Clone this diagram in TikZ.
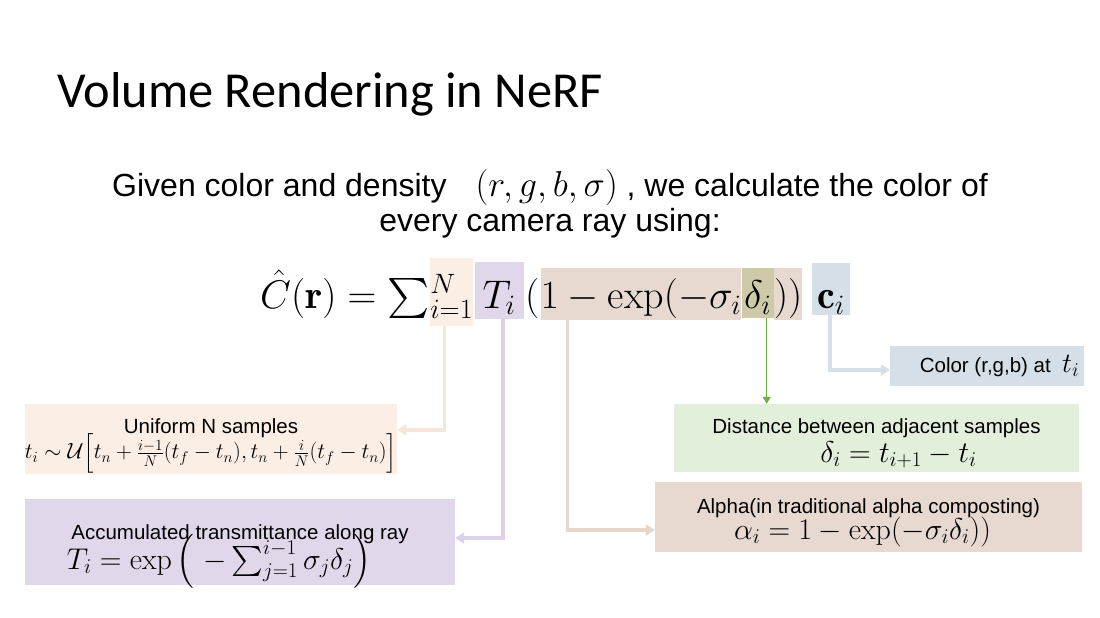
\RequirePackage{fix-cm}
\documentclass[tikz,border=0pt]{standalone}
\usepackage{amsmath}
\DeclareFontShape{OMX}{cmex}{m}{n}{<-7.5>cmex7<7.5-8.5>cmex8<8.5-9.5>cmex9<9.5->cmex10}{}
\usepackage{fontspec}
\newfontfamily\titlefont{Carlito}
\newfontfamily\slidefont{Liberation Sans}
\usepackage{xcolor}
\usetikzlibrary{arrows.meta,positioning}
\definecolor{peachbg}{HTML}{FBEEE4}
\definecolor{lilacbg}{HTML}{E1D7EB}
\definecolor{tanbg}{HTML}{E7D9CF}
\definecolor{mintbg}{HTML}{E2EFDA}
\definecolor{steelbg}{HTML}{D5DFE7}
\definecolor{olivebg}{HTML}{CECAA9}
\definecolor{peachln}{HTML}{F6E5D8}
\definecolor{lilacln}{HTML}{DCD2EA}
\definecolor{tanln}{HTML}{E6D7CC}
\definecolor{steelln}{HTML}{D6DEE6}
\definecolor{leafln}{HTML}{70AD47}

\begin{document}
\begin{tikzpicture}[x=1pt, y=-1pt,
  eqpart/.style={inner sep=0pt, font=\fontsize{40}{48}\selectfont},
  infobox/.style={rectangle, inner sep=0pt, align=center},
  boxfont/.style={font=\slidefont\fontsize{20.5}{#1}\selectfont},
  pale/.style={line width=3.5pt, -{Triangle[length=9pt,width=11pt]}},
  leaf/.style={line width=1.5pt, draw=leafln, -{Triangle[length=7pt,width=8pt]}},
]
\fill[white] (0,0) rectangle (1100,618);
\useasboundingbox (0,0) rectangle (1100,618);
% title and intro
\node[anchor=base west, inner sep=0pt, font=\titlefont\fontsize{50.4}{60}\selectfont] (title) at (57,107) {Volume Rendering in NeRF};
\node[anchor=base, align=center, inner sep=0pt, font=\slidefont\fontsize{32}{35}\selectfont] (intro) at (550,231)
  {Given color and density \hspace{20pt}{\fontsize{36}{36}\selectfont$(r,g,b,\sigma)$} , we calculate the color of\\every camera ray using:};
% main equation, highlighted parts
\node[eqpart, anchor=base east] (eqL) at (430,308) {$\hat{C}(\mathbf{r})=\sum$};
\node[eqpart, fill=peachbg, base right=0pt of eqL, minimum width=43pt, text height=50pt, text depth=18pt] (eqN) {$\vphantom{\sum}_{i=1}^{N}$};
\node[eqpart, fill=lilacbg, base right=1pt of eqN, minimum width=49pt, text height=46pt, text depth=11pt] (eqT) {$T_i$};
\node[eqpart, base right=1pt of eqT] (eqP) {$($};
\node[eqpart, fill=tanbg, base right=1pt of eqP, text height=40pt, text depth=12pt] (eqA) {$1-\exp(-\sigma_i$};
\node[eqpart, fill=olivebg, base right=0pt of eqA, minimum width=32pt, text height=40pt, text depth=10pt] (eqD) {$\delta_i$};
\node[eqpart, fill=tanbg, base right=0pt of eqD, text height=40pt, text depth=12pt] (eqA2) {$))$};
\node[eqpart, fill=steelbg, base right=9pt of eqA2, minimum width=38pt, text height=45pt, text depth=7pt] (eqc) {$\mathbf{c}_i$};
% explanation boxes
\node[infobox, boxfont=25, fill=steelbg, minimum width=194pt, minimum height=40pt] (col) at (987,366)
  {\hspace*{25pt}Color (r,g,b) at\ \ {\fontsize{28}{28}\selectfont$t_i$}};
\node[infobox, boxfont=25, fill=peachbg, minimum width=372pt, minimum height=70pt] (uni) at (211,439)
  {Uniform N samples\\{\fontsize{22}{26}\selectfont\smash{$t_i\sim\mathcal{U}\Big[t_n+\frac{i-1}{N}(t_f-t_n),t_n+\frac{i}{N}(t_f-t_n)\Big]$}}};
\node[infobox, boxfont=29, fill=mintbg, minimum width=405pt, minimum height=68pt] (dst) at (876.5,438)
  {\rule{0pt}{19pt}Distance between adjacent samples\\\hspace*{44pt}{\fontsize{30}{30}\selectfont\smash{$\delta_i=t_{i+1}-t_i$}}};
\node[infobox, boxfont=26, fill=tanbg, minimum width=427pt, minimum height=70pt] (alp) at (868.5,517)
  {\rule{0pt}{18pt}Alpha(in traditional alpha composting)\\{\fontsize{30}{30}\selectfont\smash{$\alpha_i=1-\exp(-\sigma_i\delta_i))$}}\hspace*{12pt}};
\node[infobox, boxfont=30, fill=lilacbg, minimum width=430pt, minimum height=86pt] (tra) at (240,542)
  {\rule{0pt}{24pt}Accumulated transmittance along ray\\{\fontsize{30}{30}\selectfont\smash{$T_i=\exp\left(\;-\sum_{j=1}^{i-1}\sigma_j\delta_j\right)$}}\hspace*{42pt}};
% connectors
\draw[pale, draw=peachln] ([xshift=-7pt]eqN.south) |- ([yshift=9pt]uni.east);
\draw[pale, draw=lilacln] ([xshift=4pt]eqT.south) |- ([yshift=4pt]tra.east);
\draw[pale, draw=tanln] ([xshift=27pt]eqA.south west) |- ([yshift=-13pt]alp.west);
\draw[pale, draw=steelln] ([xshift=-1pt]eqc.south) |- ([yshift=-4pt]col.west);
\draw[leaf] ([xshift=9pt]eqD.south) -- ([xshift=9pt]eqD.south |- dst.north);
\end{tikzpicture}
\end{document}
